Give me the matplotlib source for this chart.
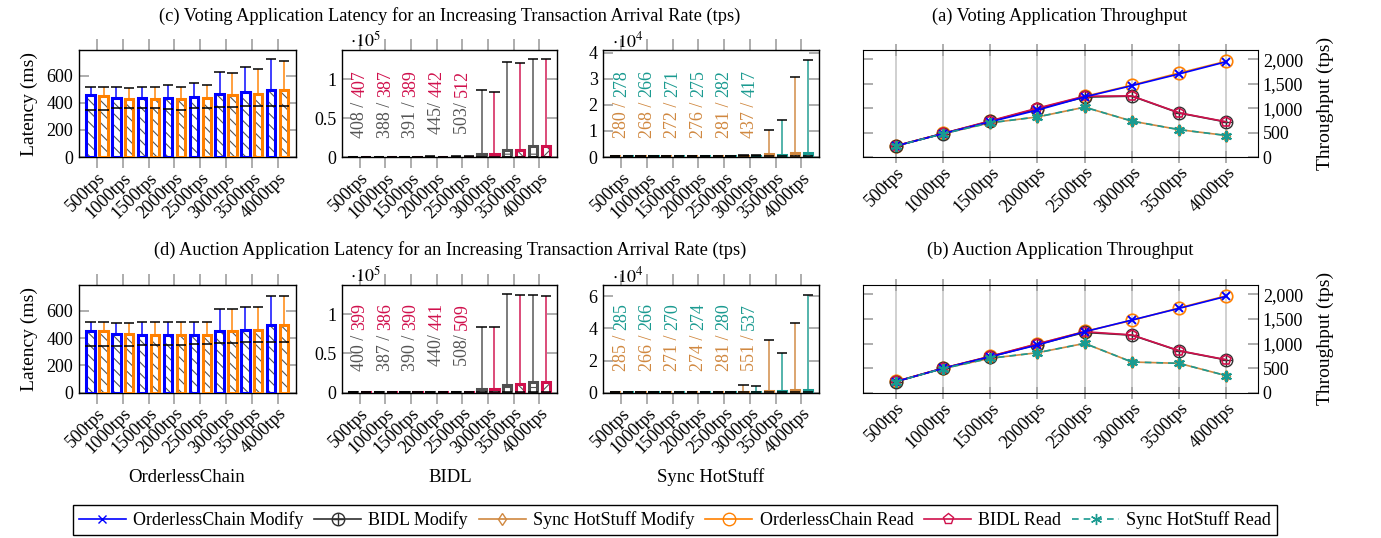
import numpy as np
import matplotlib
matplotlib.use("Agg")
import matplotlib.pyplot as plt
from matplotlib.ticker import FuncFormatter, FixedLocator
from matplotlib.lines import Line2D

plt.rcParams['font.family'] = ['Liberation Serif', 'DejaVu Serif']
plt.rcParams['mathtext.fontset'] = 'stix'
plt.rcParams['hatch.linewidth'] = 0.8

# %% data
rates = ["500tps", "1000tps", "1500tps", "2000tps", "2500tps", "3000tps", "3500tps", "4000tps"]

# OrderlessChain latency (ms): mean, min, max  -- voting
oc_v_mod = [455, 435, 435, 435, 440, 465, 478, 498]
oc_v_mod_lo = [345, 360, 360, 355, 360, 370, 380, 380]
oc_v_mod_hi = [520, 515, 518, 530, 545, 630, 665, 720]
oc_v_rd = [450, 430, 430, 430, 435, 460, 468, 492]
oc_v_rd_lo = [345, 360, 360, 350, 360, 370, 380, 380]
oc_v_rd_hi = [515, 512, 515, 520, 530, 620, 648, 710]
# auction
oc_a_mod = [450, 428, 425, 425, 422, 455, 462, 495]
oc_a_mod_lo = [345, 345, 350, 350, 355, 365, 370, 370]
oc_a_mod_hi = [515, 510, 515, 515, 520, 612, 628, 710]
oc_a_rd = [450, 428, 425, 425, 422, 455, 462, 495]
oc_a_rd_lo = [345, 345, 350, 350, 355, 365, 370, 370]
oc_a_rd_hi = [515, 510, 515, 515, 520, 612, 625, 710]

# BIDL latency (ms)
bidl_v_mod = [408, 388, 391, 445, 503, 3500, 9500, 14000]
bidl_v_mod_lo = [300, 290, 290, 320, 360, 400, 500, 500]
bidl_v_mod_hi = [600, 560, 560, 650, 800, 86000, 122000, 126000]
bidl_v_rd = [407, 387, 389, 442, 512, 3500, 9500, 14000]
bidl_v_rd_lo = [300, 290, 290, 320, 360, 400, 500, 500]
bidl_v_rd_hi = [600, 560, 560, 640, 820, 84000, 121000, 126000]
bidl_v_txt = ["408 /", "388 /", "391 /", "445/", "503/"]
bidl_v_txt2 = ["407", "387", "389", "442", "512"]

bidl_a_mod = [400, 387, 390, 440, 508, 5000, 10000, 13500]
bidl_a_mod_lo = [300, 290, 290, 320, 360, 400, 500, 500]
bidl_a_mod_hi = [600, 560, 560, 640, 800, 83000, 125000, 124000]
bidl_a_rd = [399, 386, 390, 441, 509, 5000, 10500, 14000]
bidl_a_rd_lo = [300, 290, 290, 320, 360, 400, 500, 500]
bidl_a_rd_hi = [600, 560, 560, 640, 800, 83000, 124500, 123000]
bidl_a_txt = ["400 /", "387 /", "390 /", "440/", "508/"]
bidl_a_txt2 = ["399", "386", "390", "441", "509"]

# Sync HotStuff latency (ms)
sync_v_mod = [280, 268, 272, 276, 281, 437, 1000, 1400]
sync_v_mod_lo = [200, 200, 200, 200, 200, 250, 300, 300]
sync_v_mod_hi = [400, 380, 390, 400, 410, 700, 10500, 30500]
sync_v_rd = [278, 266, 271, 275, 282, 417, 900, 1500]
sync_v_rd_lo = [200, 200, 200, 200, 200, 250, 300, 300]
sync_v_rd_hi = [400, 380, 390, 400, 410, 700, 14000, 37000]
sync_v_txt = ["280 /", "268 /", "272 /", "276 /", "281 /", "437 /"]
sync_v_txt2 = ["278", "266", "271", "275", "282", "417"]

sync_a_mod = [285, 266, 271, 274, 281, 551, 1200, 1500]
sync_a_mod_lo = [200, 200, 200, 200, 200, 250, 300, 300]
sync_a_mod_hi = [400, 380, 390, 400, 410, 4500, 33000, 43500]
sync_a_rd = [285, 266, 270, 274, 280, 537, 1000, 1800]
sync_a_rd_lo = [200, 200, 200, 200, 200, 250, 300, 300]
sync_a_rd_hi = [400, 380, 390, 400, 410, 4200, 24500, 60500]
sync_a_txt = ["285 /", "266 /", "271 /", "274 /", "281 /", "551 /"]
sync_a_txt2 = ["285", "266", "270", "274", "280", "537"]

# throughput (tps)
tp_v_oc_mod = [225, 478, 720, 960, 1230, 1460, 1700, 1950]
tp_v_oc_rd = [230, 482, 730, 990, 1240, 1470, 1720, 1960]
tp_v_bidl_mod = [225, 480, 730, 985, 1225, 1245, 900, 715]
tp_v_bidl_rd = [228, 482, 740, 1000, 1245, 1250, 905, 720]
tp_v_sync_mod = [225, 475, 700, 820, 1020, 735, 560, 440]
tp_v_sync_rd = [225, 475, 700, 820, 1020, 735, 560, 440]

tp_a_oc_mod = [224, 495, 732, 970, 1240, 1478, 1715, 1960]
tp_a_oc_rd = [228, 498, 740, 990, 1245, 1470, 1725, 1970]
tp_a_bidl_mod = [224, 495, 730, 980, 1225, 1170, 850, 665]
tp_a_bidl_rd = [228, 498, 740, 995, 1240, 1175, 855, 670]
tp_a_sync_mod = [224, 490, 700, 813, 1003, 624, 597, 346]
tp_a_sync_rd = [224, 490, 700, 813, 1003, 624, 597, 346]

# colours
c_oc_mod, c_oc_rd = "#0000ff", "#ff8000"
c_bidl_mod, c_bidl_rd = "#505050", "#d0104c"
c_sync_mod, c_sync_rd = "#d08840", "#1a9a90"
tick_grey = "#a0a0a0"

W, H = 1381, 538
fig = plt.figure(figsize=(W / 100, H / 100), dpi=100)


def rect(l, t, r, b):
    return [l / W, 1 - b / H, (r - l) / W, (b - t) / H]


FS = 13
x = np.arange(len(rates))


def latency(ax, mod, mlo, mhi, rd, rlo, rhi, cm, cr, hm, hr, top, ticks, scale=None):
    for pos, m, lo, hi, c, h in [(x - 0.25, mod, mlo, mhi, cm, hm), (x + 0.25, rd, rlo, rhi, cr, hr)]:
        ax.vlines(pos, m, hi, color=c, lw=1.4, alpha=0.75, zorder=1)
        ax.bar(pos, m, width=0.32, color="white", edgecolor="#555555", hatch=h, linewidth=0, zorder=2)
        ax.bar(pos, m, width=0.32, fill=False, edgecolor=c, linewidth=2.2, zorder=3)
        ax.hlines(hi, pos - 0.2, pos + 0.2, color="black", lw=1.1, zorder=4)
        ax.hlines(lo, pos - 0.2, pos + 0.2, color="black", lw=1.1, zorder=4)
    ax.set_xlim(-0.7, 7.7)
    ax.set_ylim(0, top)
    ax.set_xticks(x)
    ax.set_xticklabels(rates, rotation=45, ha="right", rotation_mode="anchor", fontsize=FS)
    ax.yaxis.set_major_locator(FixedLocator(ticks))
    if scale:
        ax.yaxis.set_major_formatter(FuncFormatter(lambda v, p: f"{v / scale:g}"))
        exp = int(np.log10(scale))
        ax.text(0.04, 0.99, r"$\cdot 10^{%d}$" % exp, transform=ax.transAxes, fontsize=FS, va="bottom", ha="left")
    ax.tick_params(axis="x", direction="out", top=True, bottom=True, length=8, width=1.2, color=tick_grey, pad=1)
    ax.tick_params(axis="y", direction="in", left=True, right=True, length=7, width=1.2, color=tick_grey, labelsize=FS, pad=4)
    for s in ax.spines.values():
        s.set_linewidth(1.0)


def two_tone(ax, labels1, labels2, split, c1, c2):
    for i, (a, b) in enumerate(zip(labels1, labels2)):
        ax.text(i, split, a + " ", rotation=90, ha="center", va="top", color=c1, fontsize=FS)
        ax.text(i, split, b, rotation=90, ha="center", va="bottom", color=c2, fontsize=FS)


def throughput(ax, series):
    for ys, c, mk, ls, ms, kw in series:
        ax.plot(x, ys, color=c, marker=mk, linestyle=ls, markersize=ms, lw=1.2, **kw)
    ax.set_xlim(-0.7, 7.67)
    ax.set_ylim(0, 2190)
    ax.set_xticks(x)
    ax.set_xticklabels(rates, rotation=45, ha="right", rotation_mode="anchor", fontsize=FS)
    ax.set_yticks([0, 500, 1000, 1500, 2000])
    ax.yaxis.set_major_formatter(FuncFormatter(lambda v, p: f"{v:,.0f}"))
    ax.grid(axis="x", color="#c8c8c8", lw=1.2)
    ax.set_axisbelow(True)
    ax.tick_params(axis="x", direction="inout", top=True, bottom=True, length=8, width=1.2, color=tick_grey, pad=1)
    ax.tick_params(axis="y", direction="in", left=True, right=True, labelleft=False, labelright=True,
                   length=7, width=1.2, color=tick_grey, labelsize=FS)
    ax.yaxis.set_label_position("right")
    ax.set_ylabel("Throughput (tps)", fontsize=FS + 1, labelpad=10)


asterisk = (6, 2, 0)


def tp_series(ocm, bm, sm, ocr, br, sr):
    return [
        (sm, c_sync_mod, "d", "-", 6, dict(markerfacecolor="none", markeredgewidth=1)),
        (ocr, c_oc_rd, "o", "-", 9, dict(markerfacecolor="none", markeredgewidth=1.2)),
        (bm, "#303030", "o", "-", 9, dict(markerfacecolor="none", markeredgewidth=1.0)),
        (bm, "#303030", "+", "none", 9, dict(markeredgewidth=1.0)),
        (br, c_bidl_rd, "p", "-", 7, dict(markerfacecolor="none", markeredgewidth=1.2)),
        (ocm, c_oc_mod, "x", "-", 6, dict(markeredgewidth=1.4)),
        (sr, c_sync_rd, asterisk, (0, (4, 3)), 8, dict(markeredgewidth=1.5)),
    ]


for row, (t, b) in enumerate([(50, 157), (285, 392.7)]):
    ax_oc = fig.add_axes(rect(79, t, 295.7, b))
    ax_bidl = fig.add_axes(rect(341.7, t, 557.3, b))
    ax_sync = fig.add_axes(rect(603.3, t, 819.3, b))
    ax_tp = fig.add_axes(rect(862.7, t, 1258, b))
    if row == 0:
        latency(ax_oc, oc_v_mod, oc_v_mod_lo, oc_v_mod_hi, oc_v_rd, oc_v_rd_lo, oc_v_rd_hi,
                c_oc_mod, c_oc_rd, "\\\\\\", "\\\\\\", 790, [0, 200, 400, 600])
        latency(ax_bidl, bidl_v_mod, bidl_v_mod_lo, bidl_v_mod_hi, bidl_v_rd, bidl_v_rd_lo, bidl_v_rd_hi,
                c_bidl_mod, c_bidl_rd, "++", "xx", 138000, [0, 50000, 100000], scale=1e5)
        two_tone(ax_bidl, bidl_v_txt, bidl_v_txt2, 77000, "#555555", c_bidl_rd)
        latency(ax_sync, sync_v_mod, sync_v_mod_lo, sync_v_mod_hi, sync_v_rd, sync_v_rd_lo, sync_v_rd_hi,
                c_sync_mod, c_sync_rd, "++", "xx", 41000, [0, 10000, 20000, 30000, 40000], scale=1e4)
        two_tone(ax_sync, sync_v_txt, sync_v_txt2, 23000, c_sync_mod, c_sync_rd)
        series = tp_series(tp_v_oc_mod, tp_v_bidl_mod, tp_v_sync_mod, tp_v_oc_rd, tp_v_bidl_rd, tp_v_sync_rd)
        title_l = "(c) Voting Application Latency for an Increasing Transaction Arrival Rate (tps)"
        title_r = "(a) Voting Application Throughput"
        ty = 16
    else:
        latency(ax_oc, oc_a_mod, oc_a_mod_lo, oc_a_mod_hi, oc_a_rd, oc_a_rd_lo, oc_a_rd_hi,
                c_oc_mod, c_oc_rd, "\\\\\\", "\\\\\\", 790, [0, 200, 400, 600])
        latency(ax_bidl, bidl_a_mod, bidl_a_mod_lo, bidl_a_mod_hi, bidl_a_rd, bidl_a_rd_lo, bidl_a_rd_hi,
                c_bidl_mod, c_bidl_rd, "++", "xx", 137000, [0, 50000, 100000], scale=1e5)
        two_tone(ax_bidl, bidl_a_txt, bidl_a_txt2, 80000, "#555555", c_bidl_rd)
        latency(ax_sync, sync_a_mod, sync_a_mod_lo, sync_a_mod_hi, sync_a_rd, sync_a_rd_lo, sync_a_rd_hi,
                c_sync_mod, c_sync_rd, "++", "xx", 67000, [0, 20000, 40000, 60000], scale=1e4)
        two_tone(ax_sync, sync_a_txt, sync_a_txt2, 39000, c_sync_mod, c_sync_rd)
        series = tp_series(tp_a_oc_mod, tp_a_bidl_mod, tp_a_sync_mod, tp_a_oc_rd, tp_a_bidl_rd, tp_a_sync_rd)
        title_l = "(d) Auction Application Latency for an Increasing Transaction Arrival Rate (tps)"
        title_r = "(b) Auction Application Throughput"
        ty = 250
    ax_oc.set_ylabel("Latency (ms)", fontsize=FS + 1, labelpad=6)
    throughput(ax_tp, series)
    fig.text(450 / W, 1 - ty / H, title_l, ha="center", va="center", fontsize=FS + 0.2)
    fig.text(1060 / W, 1 - ty / H, title_r, ha="center", va="center", fontsize=FS + 0.2)

# system names under latency columns
for name, cx in [("OrderlessChain", 187), ("BIDL", 450), ("Sync HotStuff", 711)]:
    fig.text(cx / W, 1 - 477 / H, name, ha="center", va="center", fontsize=FS + 0.5)

# legend
oc_mod_h = Line2D([], [], color=c_oc_mod, marker="x", markersize=6, lw=1.2)
bidl_mod_h = (Line2D([], [], color="#303030", marker="o", markersize=9, markerfacecolor="none", lw=1.2),
              Line2D([], [], color="#303030", marker="+", markersize=9, linestyle="none"))
handles = [
    oc_mod_h,
    bidl_mod_h,
    Line2D([], [], color=c_sync_mod, marker="d", markersize=6, markerfacecolor="none", lw=1.2),
    Line2D([], [], color=c_oc_rd, marker="o", markersize=9, markerfacecolor="none", lw=1.2),
    Line2D([], [], color=c_bidl_rd, marker="p", markersize=8, markerfacecolor="none", lw=1.2),
    Line2D([], [], color=c_sync_rd, marker=asterisk, markersize=8, linestyle=(0, (4, 3)), lw=1.2),
]
labels = ["OrderlessChain Modify", "BIDL Modify", "Sync HotStuff Modify",
          "OrderlessChain Read", "BIDL Read", "Sync HotStuff Read"]
leg = fig.legend(handles, labels, loc="center", bbox_to_anchor=(675 / W, 1 - 520 / H), ncol=6,
                 fontsize=FS, frameon=True, fancybox=False, edgecolor="black", framealpha=1,
                 handlelength=2.6, handletextpad=0.4, columnspacing=0.6, borderpad=0.35)
leg.get_frame().set_linewidth(1.0)

fig.savefig("out.png", dpi=100)
